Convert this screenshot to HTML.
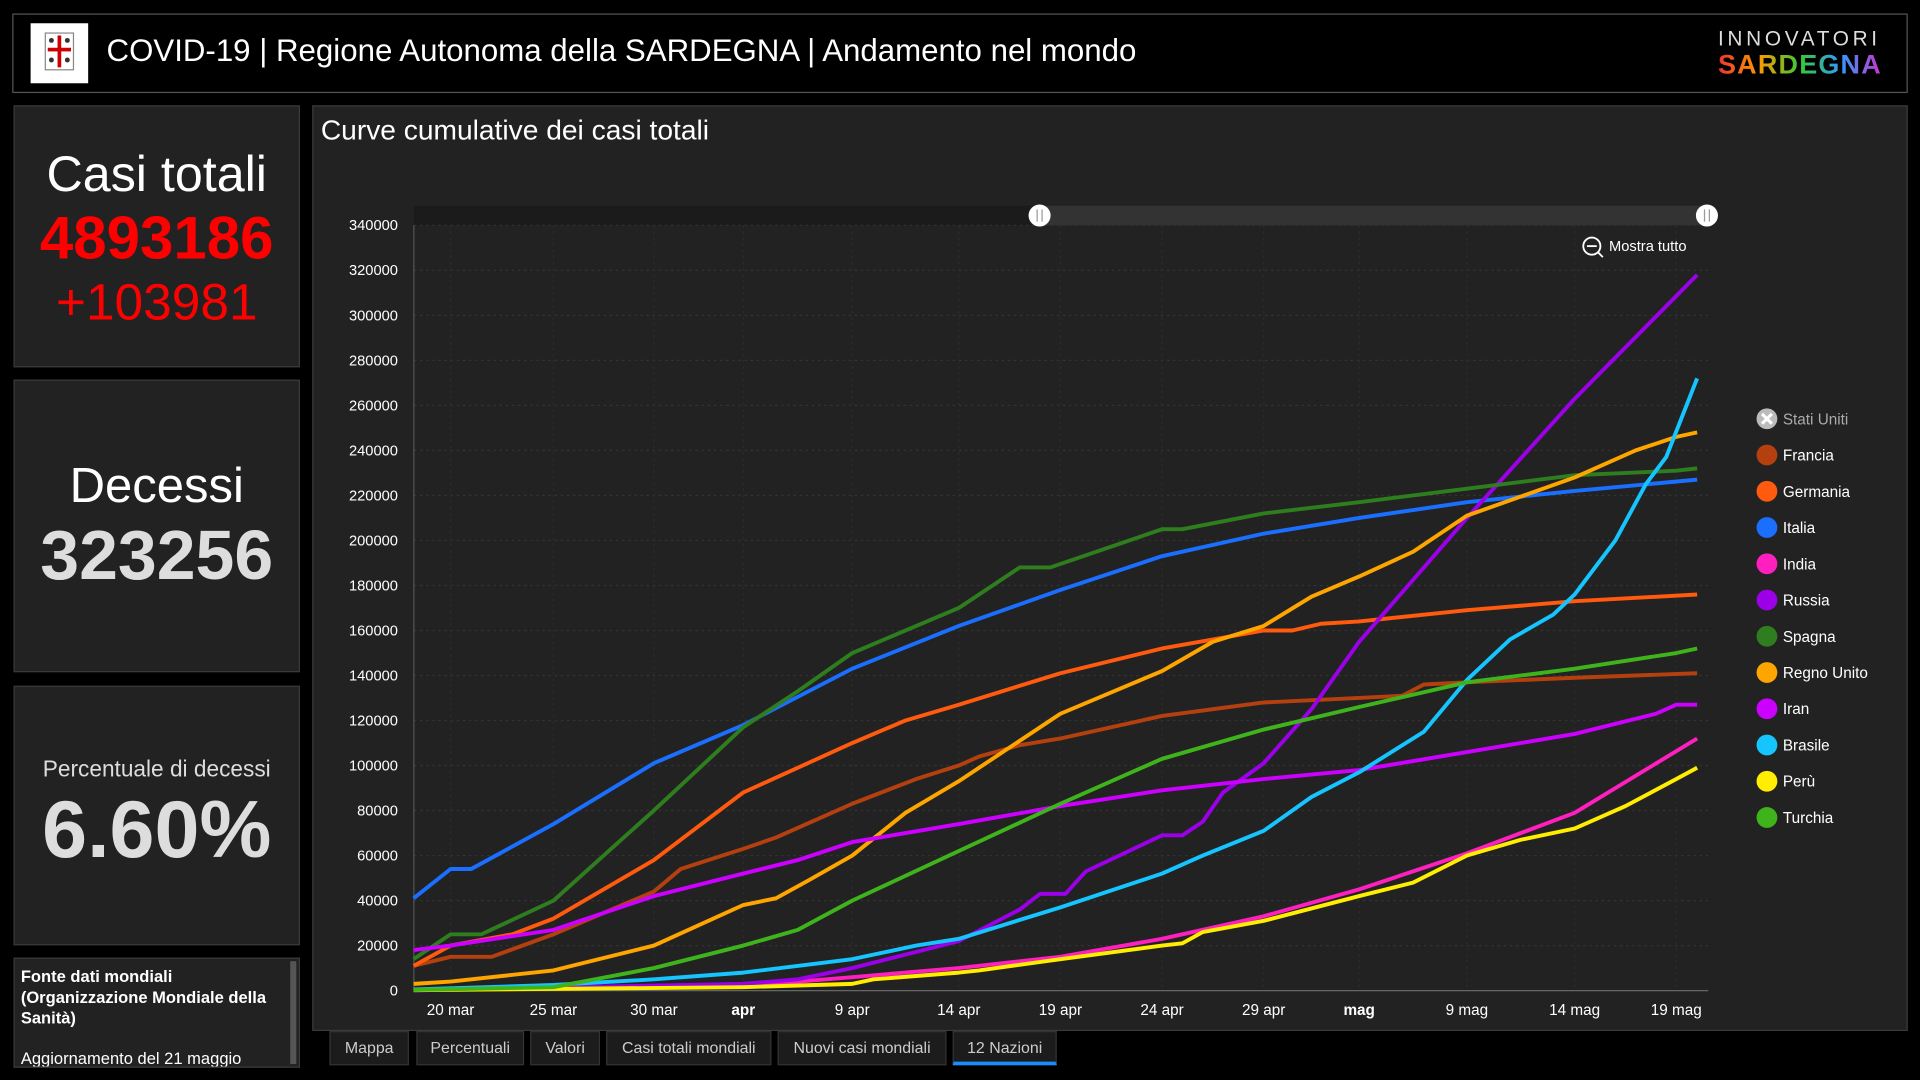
<!DOCTYPE html>
<html><head><meta charset="utf-8">
<style>
html,body{margin:0;padding:0;background:#000;width:1920px;height:1080px;overflow:hidden;font-family:"Liberation Sans",sans-serif;}
#wrap{position:absolute;left:0;top:0;width:1568px;height:882px;transform:scale(1.22449);transform-origin:0 0;background:#000;}
.box{position:absolute;background:#222;border:1px solid #3a3a3a;box-sizing:border-box;color:#fff;}
.c{text-align:center;position:absolute;left:0;width:100%;white-space:nowrap;}
.tab{position:absolute;top:842px;height:28px;background:#1c1c1c;color:#ccc;font-size:13px;line-height:26px;text-align:center;border:1px solid #333;box-sizing:border-box;}
</style></head><body><div id="wrap">
<div class="box" style="left:10px;top:11px;width:1548px;height:65px;background:#000;border-color:#555"></div>
<div style="position:absolute;left:25px;top:19px;width:47px;height:49px;background:#fff;">
<svg width="47" height="49"><rect x="12" y="8" width="23" height="30" fill="#fff" stroke="#888"/><rect x="22" y="10" width="3" height="26" fill="#c00"/><rect x="14" y="20" width="19" height="3" fill="#c00"/><circle cx="17" cy="14" r="2" fill="#333"/><circle cx="30" cy="14" r="2" fill="#333"/><circle cx="17" cy="30" r="2" fill="#333"/><circle cx="30" cy="30" r="2" fill="#333"/></svg></div>
<div style="position:absolute;left:87px;top:28px;color:#fff;font-size:25.5px;white-space:nowrap">COVID-19 | Regione Autonoma della SARDEGNA | Andamento nel mondo</div>
<div style="position:absolute;left:1403px;top:22px;color:#ddd;font-size:17px;letter-spacing:3px">INNOVATORI</div>
<div style="position:absolute;left:1403px;top:40px;font-size:22px;font-weight:bold;letter-spacing:1px;background:linear-gradient(90deg,#e33,#f90,#3c3,#39f,#c3c);-webkit-background-clip:text;color:transparent">SARDEGNA</div>

<div class="box" style="left:11px;top:86px;width:234px;height:214px">
<div class="c" style="top:32px;font-size:41px">Casi totali</div>
<div class="c" style="top:80px;font-size:49px;font-weight:bold;color:#f00">4893186</div>
<div class="c" style="top:136px;font-size:42px;color:#f00">+103981</div></div>
<div class="box" style="left:11px;top:310px;width:234px;height:239px">
<div class="c" style="top:64px;font-size:40px">Decessi</div>
<div class="c" style="top:110px;font-size:57px;font-weight:bold;color:#ddd">323256</div></div>
<div class="box" style="left:11px;top:560px;width:234px;height:212px">
<div class="c" style="top:56px;font-size:18.5px;color:#ddd">Percentuale di decessi</div>
<div class="c" style="top:78px;font-size:66px;font-weight:bold;color:#ddd">6.60%</div></div>
<div class="box" style="left:11px;top:782px;width:234px;height:90px;overflow:hidden">
<div style="position:absolute;left:5px;top:6px;font-size:13.5px;font-weight:bold;line-height:17px;width:215px">Fonte dati mondiali (Organizzazione Mondiale della Sanità)</div>
<div style="position:absolute;left:5px;top:74px;font-size:13.5px;">Aggiornamento del 21 maggio</div>
<div style="position:absolute;right:2px;top:2px;width:5px;height:84px;background:#555"></div></div>

<div class="box" style="left:255px;top:86px;width:1303px;height:756px"></div>
<div style="position:absolute;left:262px;top:93px;color:#fff;font-size:23px">Curve cumulative dei casi totali</div>
<svg id="ch" style="position:absolute;left:0;top:0" width="1568" height="882"></svg>
<div class="tab" style="left:269px;width:65px">Mappa</div>
<div class="tab" style="left:340px;width:88px">Percentuali</div>
<div class="tab" style="left:433px;width:57px">Valori</div>
<div class="tab" style="left:495px;width:135px">Casi totali mondiali</div>
<div class="tab" style="left:635px;width:138px">Nuovi casi mondiali</div>
<div class="tab" style="left:778px;width:85px;border-bottom:3px solid #1a8cff">12 Nazioni</div>
</div>
<script>
const A=[368,452,534,607,696,783,866,949,1032,1110,1198,1286,1369];
function X(t){if(t<0)return 368+t*84;if(t>=12)return 1369+(t-12)*85;const i=Math.floor(t);return A[i]+(A[i+1]-A[i])*(t-i);}
function Y(v){return 809-v*1.8382;}
let s='';
s+='<rect x="338" y="168" width="1057" height="16" fill="#1b1b1b"/><rect x="849" y="168" width="545" height="16" fill="#333"/>';
for(let k=0;k<=17;k++){const y=Y(k*20);s+=`<line x1="338" x2="1395" y1="${y}" y2="${y}" stroke="#333" stroke-dasharray="2,3" stroke-width="1"/><text x="325" y="${y+4}" fill="#fff" font-size="12" text-anchor="end">${k*20000}</text>`;}
s+=`<line x1="338" x2="338" y1="184" y2="809" stroke="#555"/><line x1="338" x2="1395" y1="809" y2="809" stroke="#666"/>`;
const L=['20 mar','25 mar','30 mar','apr','9 apr','14 apr','19 apr','24 apr','29 apr','mag','9 mag','14 mag','19 mag'];
L.forEach((l,i)=>{const b=(l=='apr'||l=='mag');s+=`<line x1="${A[i]}" x2="${A[i]}" y1="184" y2="809" stroke="#2c2c2c" stroke-dasharray="2,3"/><text x="${A[i]}" y="829" fill="#fff" font-size="12.5" text-anchor="middle" ${b?'font-weight="bold"':''}>${l}</text>`;});
s+='<circle cx="849" cy="176" r="9" fill="#fff"/><line x1="847" x2="847" y1="171" y2="181" stroke="#999"/><line x1="851" x2="851" y1="171" y2="181" stroke="#999"/>';
s+='<circle cx="1394" cy="176" r="9" fill="#fff"/><line x1="1392" x2="1392" y1="171" y2="181" stroke="#999"/><line x1="1396" x2="1396" y1="171" y2="181" stroke="#999"/>';
s+='<circle cx="1300" cy="201" r="7" fill="none" stroke="#fff" stroke-width="1.5"/><line x1="1296" x2="1304" y1="201" y2="201" stroke="#fff" stroke-width="1.5"/><line x1="1305" y1="206" x2="1309" y2="210" stroke="#fff" stroke-width="1.5"/><text x="1314" y="205" fill="#fff" font-size="12">Mostra tutto</text>';
const S=[
['#b5400f',[[-0.36,11],[0,15],[0.4,15],[1,25],[2,44],[2.3,54],[3,63],[3.3,68],[4,83],[4.6,94],[5,100],[5.2,104],[5.6,109],[6,112],[7,122],[8,128],[9,130],[9.4,131],[9.6,136],[10,137],[11,139],[12.2,141]]],
['#ff5a0e',[[-0.36,11],[0,20],[0.6,25],[1,32],[2,58],[3,88],[4,110],[4.5,120],[5,127],[6,141],[7,152],[8,160],[8.3,160],[8.6,163],[9,164],[10,169],[11,173],[12.2,176]]],
['#1a6fff',[[-0.36,41],[0,54],[0.2,54],[1,74],[2,101],[3,118],[4,143],[5,162],[6,178],[7,193],[8,203],[9,210],[10,217],[11,222],[12.2,227]]],
['#ff1fbf',[[-0.36,0.2],[3,2],[4,6],[5,10],[6,15],[7,23],[8,33],[9,45],[10,61],[11,79],[12.2,112]]],
['#9b00e8',[[-0.36,0.1],[3,3],[3.5,5],[4,10],[5,22],[5.6,36],[5.8,43],[6.05,43],[6.25,53],[7,69],[7.2,69],[7.4,75],[7.6,88],[8,101],[8.5,125],[9,155],[10,210],[11,263],[12.2,318]]],
['#2e7d1e',[[-0.36,14],[0,25],[0.3,25],[1,40],[2,80],[3,117],[3.5,133],[4,150],[5,170],[5.6,188],[5.9,188],[7,205],[7.2,205],[8,212],[9,217],[10,223],[11,229],[12,231],[12.2,232]]],
['#ffa500',[[-0.36,3],[0,4],[1,9],[2,20],[3,38],[3.3,41],[3.6,49],[4,60],[4.5,79],[5,93],[6,123],[7,142],[7.5,155],[8,162],[8.5,175],[9,184],[9.5,195],[10,211],[11,228],[11.6,240],[12,246],[12.2,248]]],
['#cc00ff',[[-0.36,18],[0,20],[1,27],[2,42],[3,52],[3.5,58],[4,66],[5,74],[6,82],[7,89],[8,94],[9,98],[10,106],[11,114],[11.8,123],[12,127],[12.2,127]]],
['#16c5ff',[[-0.36,0.5],[1,2.5],[2,5],[3,8],[4,14],[4.6,20],[5,23],[6,37],[7,52],[7.4,60],[8,71],[8.5,86],[9,97],[9.6,115],[10,138],[10.4,156],[10.8,167],[11,176],[11.4,200],[11.7,225],[11.9,237],[12.2,272]]],
['#ffee00',[[-0.36,0.2],[3,1.5],[4,3],[4.2,5],[5,8],[5.2,9],[6,14],[7,20],[7.2,21],[7.4,26],[8,31],[9,42],[9.5,48],[10,60],[10.5,67],[11,72],[11.5,82],[12,94],[12.2,99]]],
['#3fb31c',[[-0.36,0.3],[1,1.5],[2,10],[3,20],[3.5,27],[4,40],[5,62],[6,83],[7,103],[8,116],[9,126],[10,137],[11,143],[12,150],[12.2,152]]]
];
S.forEach(([c,p])=>{s+=`<polyline fill="none" stroke="${c}" stroke-width="3.2" stroke-linejoin="round" points="${p.map(q=>X(q[0]).toFixed(1)+','+Y(q[1]).toFixed(1)).join(' ')}"/>`;});
const N=['Stati Uniti','Francia','Germania','Italia','India','Russia','Spagna','Regno Unito','Iran','Brasile','Perù','Turchia'];
const C=['#bbb','#b5400f','#ff5a0e','#1a6fff','#ff1fbf','#9b00e8','#2e7d1e','#ffa500','#cc00ff','#16c5ff','#ffee00','#3fb31c'];
N.forEach((n,i)=>{const y=342+i*29.6;s+=`<circle cx="1443" cy="${y}" r="8.5" fill="${C[i]}"/>`;if(i==0)s+=`<path d="M1439 ${y-4}L1447 ${y+4}M1447 ${y-4}L1439 ${y+4}" stroke="#fff" stroke-width="2.5"/>`;s+=`<text x="1456" y="${y+4.5}" fill="${i?'#fff':'#aaa'}" font-size="12.5">${n}</text>`;});
document.getElementById('ch').innerHTML=s;
</script>
</body></html>
